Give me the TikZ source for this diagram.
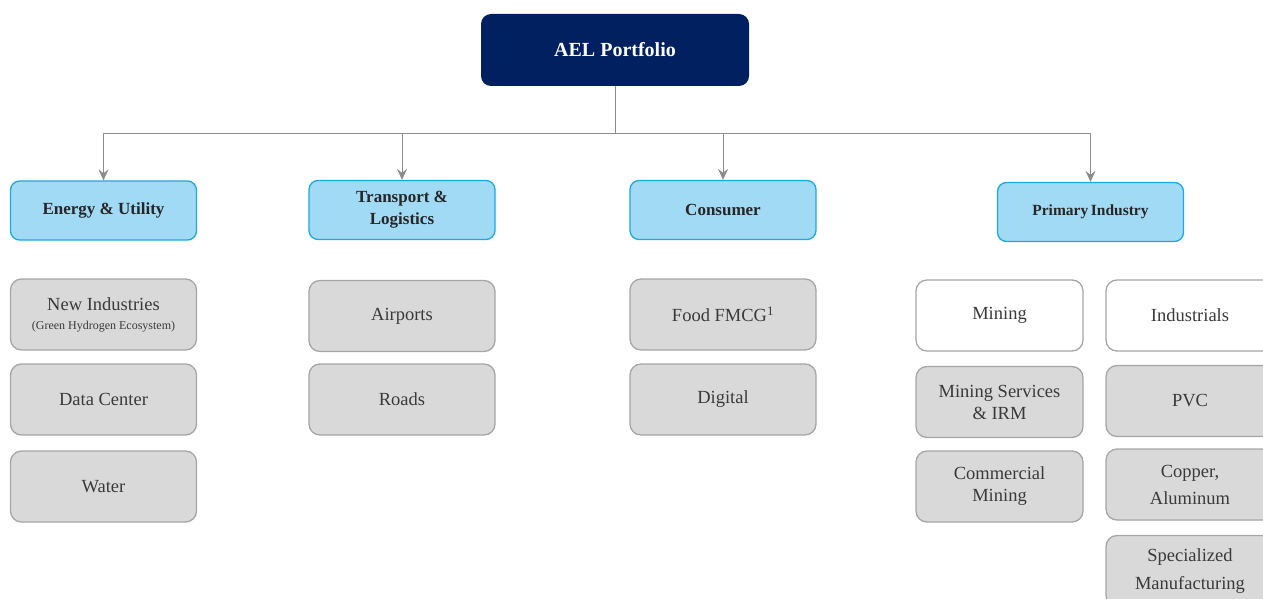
\documentclass[tikz,border=0pt]{standalone}
\usepackage{fontspec}
\setmainfont{Liberation Serif}
\usepackage{xcolor}
\usetikzlibrary{arrows.meta, positioning}

\definecolor{aelnavy}{HTML}{002060}
\definecolor{catfill}{HTML}{A1DAF4}
\definecolor{catline}{HTML}{1CA8E0}
\definecolor{unitfill}{HTML}{D9D9D9}
\definecolor{unitline}{HTML}{A6A6A6}
\definecolor{unittext}{HTML}{3A3A3A}
\definecolor{linkgray}{HTML}{8C8C8C}

\begin{document}
\begin{tikzpicture}[
            x=1pt, y=-1pt,
            >={Stealth[length=11pt, width=10pt, inset=4pt]},
            head/.style    ={draw=none, fill=aelnavy, rounded corners=10pt, text=white,
                             font=\fontsize{20}{24}\selectfont\bfseries,
                             minimum width=268pt, minimum height=72pt},
            cat/.style     ={draw=catline, fill=catfill, line width=1.3pt, rounded corners=9pt,
                             text=black!85, align=center,
                             font=\fontsize{17}{22}\selectfont\bfseries,
                             minimum width=186pt, minimum height=59pt},
            unit/.style    ={draw=unitline, fill=unitfill, line width=1.3pt, rounded corners=11pt,
                             text=unittext, align=center,
                             font=\fontsize{18.5}{22}\selectfont,
                             minimum width=186pt, minimum height=71pt},
            subunit/.style ={unit, minimum width=167pt},
            subhead/.style ={subunit, fill=white},
            link/.style    ={draw=linkgray, line width=0.9pt},
            flow/.style    ={->, link}
        ]

        \useasboundingbox (0,0) rectangle (1263,599);
        \clip (0,0) rectangle (1263,599);

        % top of the tree
        \node[head] (ael) at (615,50) {AEL Portfolio};
        \coordinate (bus) at (615,133);

        % segments
        \node[cat] (energy)    at (103.5,210.5) {Energy \& Utility};
        \node[cat] (transport) at (402,210)     {Transport \&\\Logistics};
        \node[cat] (consumer)  at (723,210)     {Consumer};
        \node[cat, font=\fontsize{15.5}{20}\selectfont\bfseries] (primary) at (1090.5,212) {Primary\,Industry};

        \draw[link] (ael.south) -- (bus);
        \foreach \seg in {energy,transport,consumer,primary}{
            \draw[flow] (bus) -| (\seg.north);
        }

        % energy & utility
        \node[unit] (newind) at (103.5,314.5)
              {New Industries\\[-3pt]{\fontsize{12}{14}\selectfont(Green Hydrogen Ecosystem)}};
        \node[unit] (datactr) at (103.5,399.5) {Data Center};
        \node[unit] (water)   at (103.5,486.5) {Water};

        % transport & logistics
        \node[unit] (airports) at (402,316) {Airports};
        \node[unit] (roads)    at (402,399.5) {Roads};

        % consumer
        \node[unit] (food)    at (723,314.5) {Food FMCG\textsuperscript{1}};
        \node[unit] (digital) at (723,399.5) {Digital};

        % primary industry, two columns
        \node[subhead] (mining)   at (999.5,315.5) {Mining};
        \node[subunit] (minserv)  at (999.5,402)   {Mining Services\\\& IRM};
        \node[subunit] (commin)   at (999.5,486.5) {Commercial\\Mining};

        \node[subhead, minimum width=168pt] (indus)  at (1190,315.5) {Industrials};
        \node[subunit, minimum width=168pt] (pvc)    at (1190,401)   {PVC};
        \node[subunit, minimum width=168pt, font=\fontsize{18.5}{27}\selectfont] (copper)
              at (1190,484.5) {Copper,\\Aluminum};
        \node[subunit, minimum width=168pt, font=\fontsize{18.5}{28}\selectfont] (special)
              at (1190,571) {Specialized\\Manufacturing};

    \end{tikzpicture}
\end{document}
